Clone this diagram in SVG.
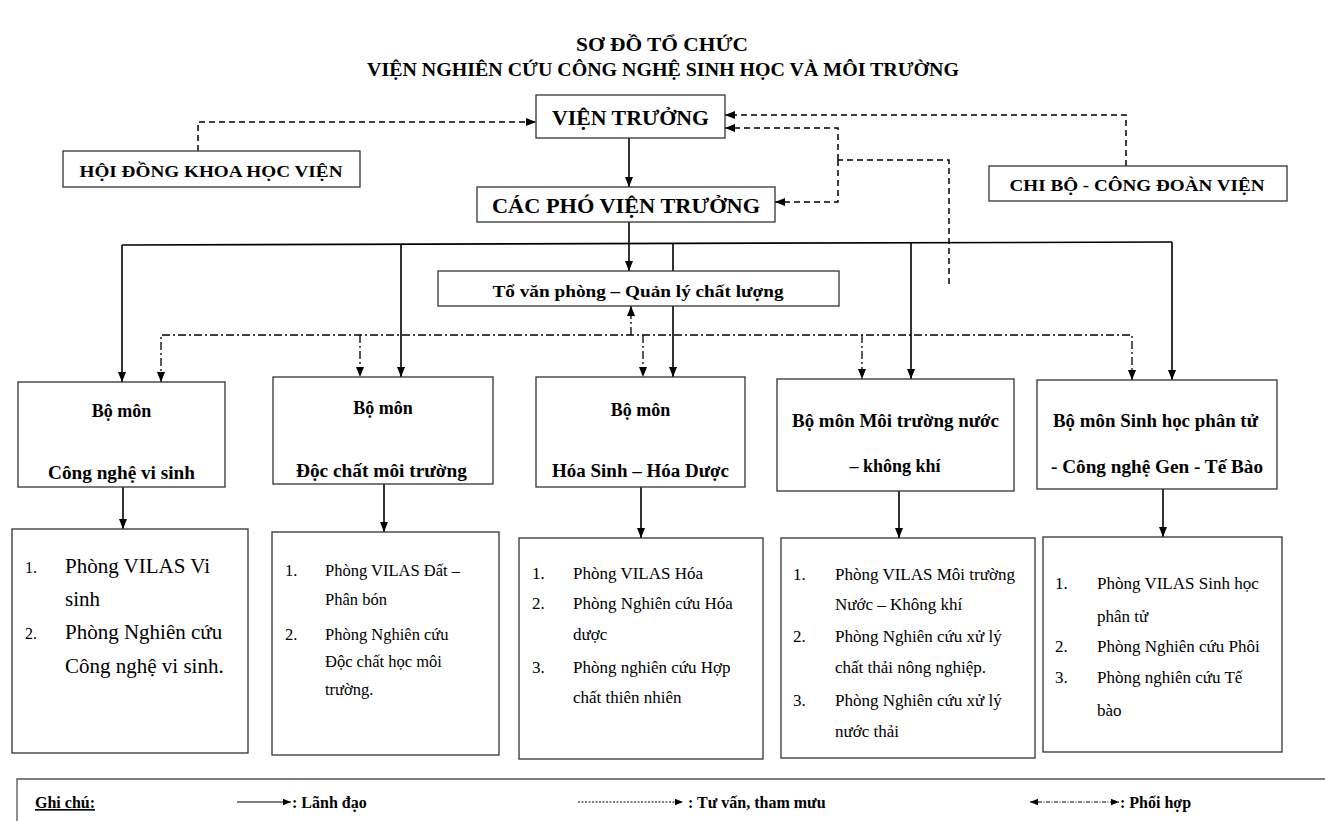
<svg xmlns="http://www.w3.org/2000/svg" width="1325" height="821" viewBox="0 0 1325 821">
<style>
.bx{fill:#fff;stroke:#333;stroke-width:1.3}
.t{font-family:"Liberation Serif","Times New Roman",serif;fill:#000}
.b{font-weight:bold}
.c{text-anchor:middle}
.sl{stroke:#000;stroke-width:1.6;fill:none}
.ds{stroke:#000;stroke-width:1.5;fill:none;stroke-dasharray:6,4}
.dd{stroke:#000;stroke-width:1.3;fill:none;stroke-dasharray:8,3,2,3}
.lg{stroke:#000;stroke-width:1;fill:none}
</style>
<defs>
<marker id="ah" viewBox="0 0 10 8" refX="10" refY="4" markerWidth="10" markerHeight="8" markerUnits="userSpaceOnUse" orient="auto-start-reverse"><path d="M0,0 L10,4 L0,8 Z" fill="#000"/></marker>
<marker id="ahs" viewBox="0 0 10 8" refX="10" refY="4" markerWidth="8" markerHeight="7" markerUnits="userSpaceOnUse" orient="auto-start-reverse"><path d="M0,0 L10,4 L0,8 Z" fill="#000"/></marker>
</defs>
<rect width="1325" height="821" fill="#fff"/>
<g id="title">
<text class="t b c" x="662" y="51" font-size="19" textLength="172" lengthAdjust="spacingAndGlyphs">SƠ ĐỒ TỔ CHỨC</text>
<text class="t b c" x="663" y="76" font-size="19" textLength="592" lengthAdjust="spacingAndGlyphs">VIỆN NGHIÊN CỨU CÔNG NGHỆ SINH HỌC VÀ MÔI TRƯỜNG</text>
</g>
<g id="connectors">
<path class="sl" d="M629,138 V187" marker-end="url(#ah)"/>
<path class="sl" d="M629,222 V271" marker-end="url(#ah)"/>
<path class="sl" d="M122,245 L1172,242"/>
<path class="sl" d="M122,245 V382" marker-end="url(#ah)"/>
<path class="sl" d="M401,244 V377" marker-end="url(#ah)"/>
<path class="sl" d="M673,243 V377" marker-end="url(#ah)"/>
<path class="sl" d="M911,243 V379" marker-end="url(#ah)"/>
<path class="sl" d="M1172,242 V380" marker-end="url(#ah)"/>
<path class="ds" d="M198,151 V122 H536" marker-end="url(#ah)"/>
<path class="ds" d="M1126,166 V115 H725" marker-end="url(#ah)"/>
<path class="ds" d="M949,284 V160 H838"/>
<path class="ds" d="M838,160 V128 H725" marker-end="url(#ah)"/>
<path class="ds" d="M838,160 V202 H775" marker-end="url(#ah)"/>
<path class="dd" d="M161,382 V335 H1132 V380" marker-start="url(#ah)" marker-end="url(#ah)"/>
<path class="dd" d="M360,335 V377" marker-end="url(#ah)"/>
<path class="dd" d="M643,335 V377" marker-end="url(#ah)"/>
<path class="dd" d="M862,335 V379" marker-end="url(#ah)"/>
<path class="dd" d="M631,335 V306" marker-end="url(#ah)"/>
<path class="sl" d="M123,487 V529" marker-end="url(#ah)"/>
<path class="sl" d="M384,484 V532" marker-end="url(#ah)"/>
<path class="sl" d="M641,487 V538" marker-end="url(#ah)"/>
<path class="sl" d="M899,491 V538" marker-end="url(#ah)"/>
<path class="sl" d="M1163,489 V537" marker-end="url(#ah)"/>
</g>
<g id="vien-truong">
<rect class="bx" x="536" y="95" width="189" height="43"/>
<text class="t b c" x="630.5" y="125" font-size="20" textLength="157" lengthAdjust="spacingAndGlyphs">VIỆN TRƯỞNG</text>
</g>
<g id="pho-vien-truong">
<rect class="bx" x="477" y="187" width="298" height="35"/>
<text class="t b c" x="626" y="213" font-size="21" textLength="268" lengthAdjust="spacingAndGlyphs">CÁC PHÓ VIỆN TRƯỞNG</text>
</g>
<g id="hoi-dong">
<rect class="bx" x="63" y="151" width="297" height="36"/>
<text class="t b c" x="211" y="177" font-size="17" textLength="263" lengthAdjust="spacingAndGlyphs">HỘI ĐỒNG KHOA HỌC VIỆN</text>
</g>
<g id="chi-bo">
<rect class="bx" x="989" y="166" width="298" height="35"/>
<text class="t b c" x="1137" y="191" font-size="17" textLength="255" lengthAdjust="spacingAndGlyphs">CHI BỘ - CÔNG ĐOÀN VIỆN</text>
</g>
<g id="to-van-phong">
<rect class="bx" x="438" y="271" width="401" height="35"/>
<text class="t b c" x="638" y="297" font-size="17" textLength="291" lengthAdjust="spacingAndGlyphs">Tổ văn phòng – Quản lý chất lượng</text>
</g>
<g id="bm1">
<rect class="bx" x="18" y="382" width="207" height="105"/>
<text class="t b c" x="121.5" y="417" font-size="18">Bộ môn</text>
<text class="t b c" x="121.5" y="479" font-size="18" textLength="147" lengthAdjust="spacingAndGlyphs">Công nghệ vi sinh</text>
</g>
<g id="bm2">
<rect class="bx" x="273" y="377" width="220" height="107"/>
<text class="t b c" x="383" y="414" font-size="18">Bộ môn</text>
<text class="t b c" x="381.5" y="477" font-size="18" textLength="171" lengthAdjust="spacingAndGlyphs">Độc chất môi trường</text>
</g>
<g id="bm3">
<rect class="bx" x="536" y="377" width="209" height="110"/>
<text class="t b c" x="640.5" y="416" font-size="18">Bộ môn</text>
<text class="t b c" x="640.5" y="477" font-size="18" textLength="177" lengthAdjust="spacingAndGlyphs">Hóa Sinh – Hóa Dược</text>
</g>
<g id="bm4">
<rect class="bx" x="777" y="379" width="237" height="112"/>
<text class="t b c" x="895.5" y="427" font-size="18" textLength="207" lengthAdjust="spacingAndGlyphs">Bộ môn Môi trường nước</text>
<text class="t b c" x="895" y="472" font-size="18">– không khí</text>
</g>
<g id="bm5">
<rect class="bx" x="1037" y="380" width="240" height="109"/>
<text class="t b c" x="1155.5" y="427" font-size="18" textLength="205" lengthAdjust="spacingAndGlyphs">Bộ môn Sinh học phân tử</text>
<text class="t b c" x="1157" y="473" font-size="18" textLength="212" lengthAdjust="spacingAndGlyphs">- Công nghệ Gen - Tế Bào</text>
</g>
<g id="list1" class="t" font-size="21">
<rect class="bx" x="12" y="529" width="236" height="224"/>
<text class="t" x="25" y="573" font-size="16">1.</text>
<text class="t" x="65" y="573">Phòng VILAS  Vi</text>
<text class="t" x="65" y="606">sinh</text>
<text class="t" x="25" y="639" font-size="16">2.</text>
<text class="t" x="65" y="639">Phòng Nghiên cứu</text>
<text class="t" x="65" y="673">Công nghệ vi sinh.</text>
</g>
<g id="list2" class="t" font-size="16.5">
<rect class="bx" x="272" y="532" width="227" height="223"/>
<text class="t" x="285" y="576">1.</text>
<text class="t" x="325" y="576">Phòng VILAS  Đất –</text>
<text class="t" x="325" y="605">Phân bón</text>
<text class="t" x="285" y="640">2.</text>
<text class="t" x="325" y="640">Phòng Nghiên cứu</text>
<text class="t" x="325" y="667">Độc chất học môi</text>
<text class="t" x="325" y="695">trường.</text>
</g>
<g id="list3" class="t" font-size="17">
<rect class="bx" x="519" y="538" width="244" height="221"/>
<text class="t" x="532" y="579">1.</text>
<text class="t" x="573" y="579">Phòng VILAS  Hóa</text>
<text class="t" x="532" y="609">2.</text>
<text class="t" x="573" y="609">Phòng Nghiên cứu Hóa</text>
<text class="t" x="573" y="640">dược</text>
<text class="t" x="532" y="673">3.</text>
<text class="t" x="573" y="673">Phòng nghiên cứu Hợp</text>
<text class="t" x="573" y="703">chất thiên nhiên</text>
</g>
<g id="list4" class="t" font-size="17">
<rect class="bx" x="781" y="538" width="254" height="220"/>
<text class="t" x="793" y="580">1.</text>
<text class="t" x="835" y="580">Phòng VILAS  Môi trường</text>
<text class="t" x="835" y="610">Nước – Không khí</text>
<text class="t" x="793" y="642">2.</text>
<text class="t" x="835" y="642">Phòng Nghiên cứu xử lý</text>
<text class="t" x="835" y="673">chất thải nông nghiệp.</text>
<text class="t" x="793" y="706">3.</text>
<text class="t" x="835" y="706">Phòng Nghiên cứu xử lý</text>
<text class="t" x="835" y="737">nước thải</text>
</g>
<g id="list5" class="t" font-size="17">
<rect class="bx" x="1043" y="537" width="239" height="215"/>
<text class="t" x="1055" y="589">1.</text>
<text class="t" x="1097" y="589">Phòng VILAS  Sinh học</text>
<text class="t" x="1097" y="622">phân tử</text>
<text class="t" x="1055" y="652">2.</text>
<text class="t" x="1097" y="652">Phòng Nghiên cứu Phôi</text>
<text class="t" x="1055" y="683">3.</text>
<text class="t" x="1097" y="683">Phòng nghiên cứu Tế</text>
<text class="t" x="1097" y="716">bào</text>
</g>
<g id="legend">
<path d="M17,821 V779 H1325" fill="none" stroke="#555" stroke-width="1.3"/>
<text class="t b" x="35" y="808" font-size="16" text-decoration="underline">Ghi chú:</text>
<path class="lg" d="M237,802 H291" marker-end="url(#ahs)"/>
<text class="t b" x="292" y="808" font-size="16">: Lãnh đạo</text>
<path class="lg" d="M578,802 H683" stroke-dasharray="2,1.5" marker-end="url(#ahs)"/>
<text class="t b" x="688" y="808" font-size="16">: Tư vấn, tham mưu</text>
<path class="lg" d="M1030,802 H1119" stroke-dasharray="4,1.5,1,1.5" marker-start="url(#ahs)" marker-end="url(#ahs)"/>
<text class="t b" x="1120" y="808" font-size="16">: Phối hợp</text>
</g>
</svg>
